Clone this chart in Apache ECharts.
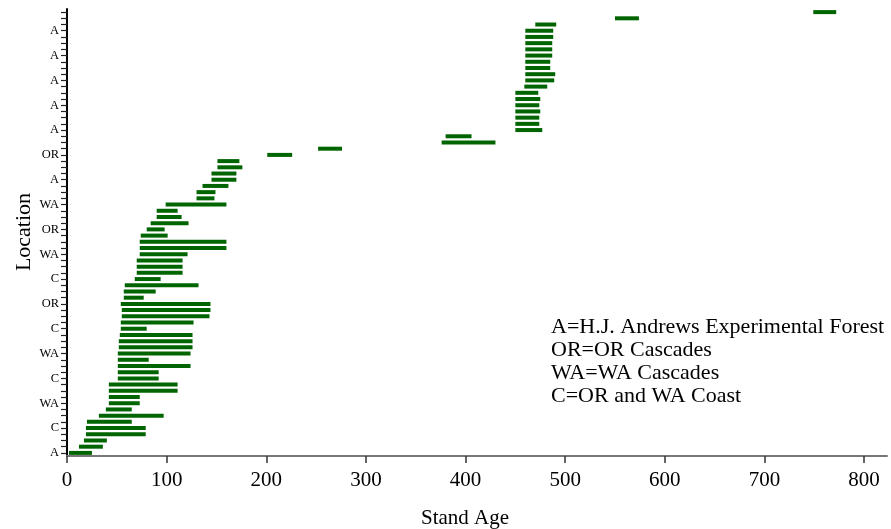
<!DOCTYPE html>
<html>
<head>
<meta charset="utf-8">
<script src="https://cdn.jsdelivr.net/npm/echarts@6/dist/echarts.min.js"></script>
<style>html,body{margin:0;padding:0;background:#fff}#c{width:891px;height:529px}</style>
</head>
<body>
<div id="c"></div>
<script>
// Rows from bottom (row 1) to top (row 72)
const standIds = ['1','2','3','4','5','6','7','8','9','10','11','12','13','14','15','16','17','18','19','20','21','22','23','24','25','26','27','28','29','30','31','32','33','34','35','36','37','38','39','40','41','42','43','44','45','46','47','48','49','50','51','52','53','54','55','56','57','58','59','60','61','62','63','64','65','66','67','68','69','70','71','72'];
// Location tick labels (shown on every 4th row)
const tickLabels = ['A','','','','C','','','','WA','','','','C','','','','WA','','','','C','','','','OR','','','','C','','','','WA','','','','OR','','','','WA','','','','A','','','','OR','','','','A','','','','A','','','','A','','','','A','','','','A','','',''];
const startAges = [2,12,17,19,19,20,32,39,42,42,42,42,51,51,51,51,51,52,52,53,54,54,55,55,54,57,57,58,68,70,70,70,73,73,73,74,80,84,90,90,99,130,130,136,145,145,151,151,201,252,376,380,450,450,450,450,450,450,450,459,460,460,460,460,460,460,460,460,460,470,550,749];
const endAges   = [25,36,40,79,79,65,97,65,73,73,111,111,92,92,124,82,124,126,126,126,80,127,143,144,144,77,89,132,94,116,116,116,121,160,160,101,98,122,115,111,160,148,149,162,170,170,176,173,226,276,430,406,477,474,474,475,474,475,473,482,489,490,485,485,487,487,487,488,488,491,574,772];
const xTicks = [0,100,200,300,400,500,600,700,800];
const legendLines = ['A=H.J. Andrews Experimental Forest','OR=OR Cascades','WA=WA Cascades','C=OR and WA Coast'];

const FONT = "'Liberation Serif','Times New Roman',serif";
const data = standIds.map((id, i) => [i, startAges[i], endAges[i]]);

const chart = echarts.init(document.getElementById('c'), null, {renderer: 'canvas'});
chart.setOption({
  animation: false,
  backgroundColor: '#fff',
  grid: {left: 67, right: 4, top: 9, bottom: 73, containLabel: false},
  xAxis: {
    type: 'value', min: 0, max: 823,
    splitLine: {show: false},
    axisLine: {show: true, lineStyle: {color: '#777', width: 2}},
    axisTick: {show: true, length: 7, customValues: xTicks, lineStyle: {color: '#333', width: 1.5}},
    axisLabel: {customValues: xTicks, margin: 14, color: '#000', fontFamily: FONT, fontSize: 21}
  },
  yAxis: {
    type: 'category', data: standIds,
    axisLine: {show: true, onZero: false, lineStyle: {color: '#000', width: 2}},
    axisTick: {show: true, interval: 0, alignWithLabel: true, length: 6, lineStyle: {color: '#222', width: 1.2}},
    axisLabel: {interval: 0, margin: 8, color: '#000', fontFamily: FONT, fontSize: 12.5,
      formatter: (v, i) => tickLabels[i]},
    splitLine: {show: false}
  },
  series: [{
    type: 'custom',
    data: data,
    encode: {x: [1, 2], y: 0},
    renderItem: function (params, api) {
      const row = api.value(0);
      const s = api.coord([api.value(1), row]);
      const e = api.coord([api.value(2), row]);
      const h = 4;
      return {type: 'rect', shape: {x: s[0], y: s[1] - h / 2, width: e[0] - s[0], height: h},
        style: {fill: '#006400'}};
    }
  }],
  graphic: [
    {type: 'text', x: 465, y: 518, style: {text: 'Stand Age', font: '21px ' + FONT, fill: '#000', align: 'center', verticalAlign: 'middle'}},
    {type: 'text', x: 24, y: 232, rotation: Math.PI / 2, style: {text: 'Location', font: '22px ' + FONT, fill: '#000', align: 'center', verticalAlign: 'middle'}}
  ].concat(legendLines.map((t, i) => ({
    type: 'text', x: 551, y: 327 + i * 23,
    style: {text: t, font: '22px ' + FONT, fill: '#000', align: 'left', verticalAlign: 'middle'}
  })))
});
</script>
</body>
</html>
